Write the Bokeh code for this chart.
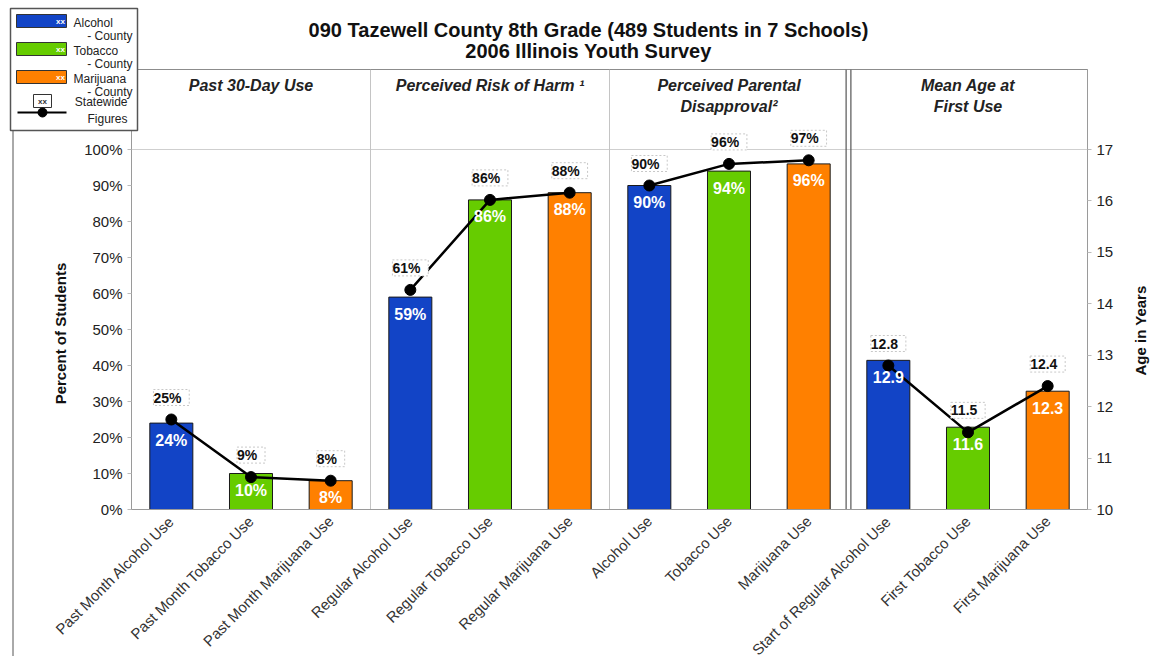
from math import pi
from bokeh.plotting import figure
from bokeh.models import (Range1d, LinearAxis, FixedTicker, PrintfTickFormatter, ColumnDataSource,
                          LabelSet, Label, FactorRange, Span)
from bokeh.core.properties import value
from bokeh.embed import file_html
from bokeh.resources import INLINE

# ---------------- data ----------------
categories = ["Past Month Alcohol Use", "Past Month Tobacco Use", "Past Month Marijuana Use",
              "Regular Alcohol Use", "Regular Tobacco Use", "Regular Marijuana Use",
              "Alcohol Use", "Tobacco Use", "Marijuana Use",
              "Start of Regular Alcohol Use", "First Tobacco Use", "First Marijuana Use"]
substances = ["Alcohol", "Tobacco", "Marijuana"]
section_titles = [["Past 30-Day Use"], ["Perceived Risk of Harm \u00b9"],
                  ["Perceived Parental", "Disapproval\u00b2"], ["Mean Age at", "First Use"]]
county_pct = [24, 10, 8, 59, 86, 88, 90, 94, 96]
state_pct = [25, 9, 8, 61, 86, 88, 90, 96, 97]
county_age = [12.9, 11.6, 12.3]
state_age = [12.8, 11.5, 12.4]
pct_ticks = [0, 10, 20, 30, 40, 50, 60, 70, 80, 90, 100]
age_ticks = [10, 11, 12, 13, 14, 15, 16, 17]
title_lines = ["090 Tazewell County 8th Grade (489 Students in 7 Schools)", "2006 Illinois Youth Survey"]
left_label = "Percent of Students"
right_label = "Age in Years"

# ---------------- style ----------------
FONT = "Liberation Sans"
colors = {"Alcohol": "#1244C6", "Tobacco": "#66CC00", "Marijuana": "#FF8000"}
bar_colors = [colors[substances[i % 3]] for i in range(len(categories))]

# frame geometry (pixels)
FL, FR, FT, FB = 131, 1087, 69, 509
W, H = 1159, 656
frame_w, frame_h = FR - FL, FB - FT
plot_h = 360.0  # pixel height of the 0-100 / 10-17 region
pct_top = 100 * frame_h / plot_h
age_top = 10 + 7 * frame_h / plot_h

p = figure(x_range=FactorRange(*categories, range_padding=0, factor_padding=0),
           y_range=Range1d(0, pct_top),
           frame_width=frame_w, frame_height=frame_h,
           min_border_left=FL, min_border_right=W - FR, min_border_top=FT, min_border_bottom=H - FB,
           output_backend="svg", toolbar_location=None, tools="")
p.extra_y_ranges = {"age": Range1d(10, age_top)}
p.background_fill_color = "white"
p.border_fill_color = "white"
p.outline_line_color = "#8c8c8c"
p.grid.visible = False

def style_y(ax):
    ax.major_label_text_font = FONT
    ax.major_label_text_font_size = "15px"
    ax.major_label_text_color = "#222222"
    ax.axis_line_color = "#9a9a9a"
    ax.major_tick_line_color = "#bbbbbb"
    ax.major_tick_in = 0
    ax.major_tick_out = 4
    ax.minor_tick_line_color = None

ya = p.yaxis[0]
ya.ticker = FixedTicker(ticks=pct_ticks)
ya.formatter = PrintfTickFormatter(format="%d%%")
style_y(ya)

ra = LinearAxis(y_range_name="age", ticker=FixedTicker(ticks=age_ticks))
style_y(ra)
p.add_layout(ra, "right")

xa = p.xaxis[0]
xa.major_label_orientation = pi / 4
xa.major_label_text_font = FONT
xa.major_label_text_font_size = "15px"
xa.major_label_text_color = "#333333"
xa.major_label_standoff = 3
xa.axis_line_color = "#9a9a9a"
xa.major_tick_line_color = None

# section dividers / header box
p.add_layout(Span(location=100, dimension="width", line_color="#cfcfcf", line_width=1, level="underlay"))
for loc in (3, 6):
    p.add_layout(Span(location=loc, dimension="height", line_color="#c4c4c4", line_width=1, level="underlay"))
for loc in (8.97, 9.03):
    p.add_layout(Span(location=loc, dimension="height", line_color="#555555", line_width=1.2, level="underlay"))

# section headers
for s, lines in enumerate(section_titles):
    for j, t in enumerate(lines):
        p.add_layout(Label(x=s * 3 + 1.5, y=FB - (85 + 21 * j), y_units="screen", text=t,
                           text_align="center", text_baseline="middle", text_font=FONT,
                           text_font_style="bold italic", text_font_size="16px", text_color="#222222"))

# bars
pct_src = ColumnDataSource(dict(x=categories[:9], top=county_pct, state=state_pct, color=bar_colors[:9],
                                ctext=[f"{v}%" for v in county_pct], stext=[f" {v}% " for v in state_pct]))
age_src = ColumnDataSource(dict(x=categories[9:], top=county_age, state=state_age, color=bar_colors[9:],
                                ctext=[f"{v:.1f}" for v in county_age], stext=[f" {v:.1f} " for v in state_age]))
p.vbar(x="x", top="top", bottom=0, width=0.54, fill_color="color", line_color="#1a1a1a", line_width=1,
       source=pct_src)
p.vbar(x="x", top="top", bottom=10, width=0.54, fill_color="color", line_color="#1a1a1a", line_width=1,
       source=age_src, y_range_name="age")

for src, rng in ((pct_src, "default"), (age_src, "age")):
    p.add_layout(LabelSet(x="x", y="top", text="ctext", source=src, y_range_name=rng, y_offset=-17,
                          text_align="center", text_baseline="middle", text_font=value(FONT),
                          text_font_style="bold", text_font_size="16px", text_color="white"))

# statewide lines + dots (one polyline per section)
for s in range(3):
    sl = slice(s * 3, s * 3 + 3)
    p.line(categories[sl], state_pct[sl], line_color="black", line_width=2.5)
p.line(categories[9:], state_age, line_color="black", line_width=2.5, y_range_name="age")
p.scatter(categories[:9], state_pct, size=11, color="black")
p.scatter(categories[9:], state_age, size=11, color="black", y_range_name="age")

for src, rng in ((pct_src, "default"), (age_src, "age")):
    p.add_layout(LabelSet(x="x", y="state", text="stext", source=src, y_range_name=rng, y_offset=22,
                          text_align="center", text_baseline="middle", text_font=value(FONT),
                          text_font_style="bold", text_font_size="14px", text_color="#111111",
                          background_fill_color="white", border_line_color="#c8c8c8",
                          border_line_dash="2 2"))

# ---------------- overlay (separate root, absolutely positioned): title, axis titles, legend ----------------
ov = figure(width=W, height=H, x_range=Range1d(0, W), y_range=Range1d(0, H),
            min_border=0, x_axis_location=None, y_axis_location=None,
            output_backend="svg", toolbar_location=None, tools="",
            styles={"position": "absolute", "left": "0px", "top": "0px", "pointer-events": "none",
                    "z-index": "5"})
ov.grid.visible = False
ov.outline_line_color = None
ov.background_fill_alpha = 0
ov.border_fill_alpha = 0

def Y(cy):
    return H - cy

def otext(x, y, t, align="left", size="12px", color="#222222", style="normal", angle=0):
    ov.text(x=[x], y=[Y(y)], text=[t], angle=angle, text_align=align, text_baseline="middle",
            text_font=value(FONT), text_font_size=size, text_color=color, text_font_style=style)

for j, t in enumerate(title_lines):
    otext(588, 29 + 21 * j, t, align="center", size="20px", color="#111111", style="bold")

otext(60, 333, left_label, align="center", size="15px", color="#111111", style="bold", angle=pi / 2)
otext(1140, 330, right_label, align="center", size="15px", color="#111111", style="bold", angle=pi / 2)

# outer chart border (left edge)
ov.segment(x0=[12.5], y0=[Y(130)], x1=[12.5], y1=[Y(656)], line_color="#555555", line_width=1)
# legend frame
ov.quad(left=[10], right=[137], top=[Y(8)], bottom=[Y(130)], fill_color="white",
        line_color="#555555", line_width=1.5)
for i, sname in enumerate(substances):
    top = 14 + 28 * i
    ov.quad(left=[16], right=[66], top=[Y(top)], bottom=[Y(top + 13)], fill_color=colors[sname],
            line_color="#333333", line_width=1)
    otext(60, top + 7, "xx", align="center", size="8px", color="white", style="bold")
    otext(73, top + 8, sname)
    otext(132, top + 21, "- County", align="right")
# statewide symbol
ov.quad(left=[33], right=[51], top=[Y(94)], bottom=[Y(107)], fill_color="white",
        line_color="#333333", line_width=1)
otext(42, 101, "xx", align="center", size="8px", color="#333333", style="bold")
ov.segment(x0=[17], y0=[Y(112)], x1=[66], y1=[Y(112)], line_color="black", line_width=2)
ov.scatter(x=[42], y=[Y(112)], size=9, color="black")
otext(127, 101, "Statewide", align="right")
otext(127, 118, "Figures", align="right")

open("out.html", "w").write(file_html([p, ov], INLINE))
